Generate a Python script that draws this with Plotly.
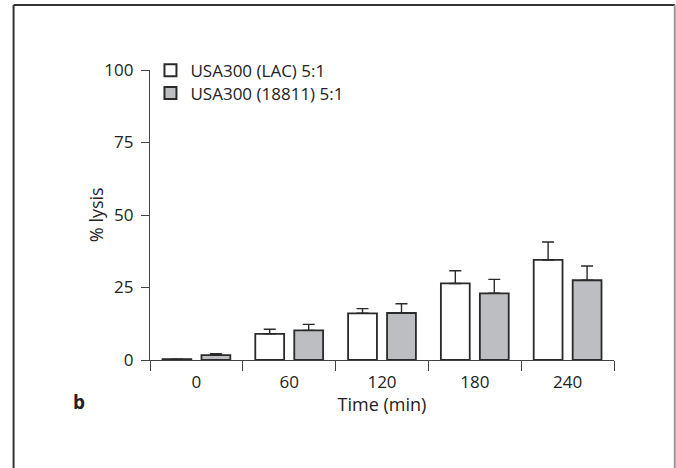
import plotly.graph_objects as go

categories = ["0", "60", "120", "180", "240"]
lac_values = [0.3, 9.0, 16.1, 26.4, 34.5]
lac_err = [0.0, 1.6, 1.6, 4.4, 6.2]
s18811_values = [1.7, 10.2, 16.2, 23.0, 27.5]
s18811_err = [0.5, 2.1, 3.2, 4.8, 4.9]
series_names = ["USA300 (LAC) 5:1", "USA300 (18811) 5:1"]
y_ticks = [0, 25, 50, 75, 100]

FONT = "Open Sans, Noto Sans, sans-serif"
DARK = "#2a2a2a"
x_idx = list(range(len(categories)))

fig = go.Figure()
fig.add_trace(go.Bar(
    x=x_idx, y=lac_values, name=series_names[0], legend="legend",
    marker=dict(color="white", line=dict(color=DARK, width=1.8)),
    error_y=dict(type="data", array=lac_err, arrayminus=[0] * 5, symmetric=False,
                 color=DARK, thickness=1.4, width=6),
))
fig.add_trace(go.Bar(
    x=x_idx, y=s18811_values, name=series_names[1], legend="legend2",
    marker=dict(color="#bdbec1", line=dict(color=DARK, width=1.8)),
    error_y=dict(type="data", array=s18811_err, arrayminus=[0] * 5, symmetric=False,
                 color=DARK, thickness=1.4, width=6),
))

leg_common = dict(xanchor="left", yanchor="middle", bgcolor="rgba(0,0,0,0)",
                  font=dict(size=17, color="#222"), itemsizing="constant")

fig.update_layout(
    width=676, height=468,
    margin=dict(l=150, r=62, t=70, b=108),
    paper_bgcolor="white", plot_bgcolor="white",
    barmode="group", bargap=0.16, bargroupgap=0.26,
    font=dict(family=FONT, size=17, color="#222"),
    showlegend=True,
    legend=dict(x=0.001, y=0.998, **leg_common),
    legend2=dict(x=0.001, y=0.919, **leg_common),
    xaxis=dict(
        range=[-0.5, 4.5], tickvals=x_idx, ticktext=categories, ticks="",
        showline=True, linecolor="#444", linewidth=1.2, showgrid=False, zeroline=False,
        tickfont=dict(size=17), ticklabelstandoff=6,
        minor=dict(tick0=-0.5, dtick=1, ticks="outside", ticklen=10, tickcolor="#444",
                   tickwidth=1.2, showgrid=False),
        title=dict(text="Time (min)", font=dict(size=18), standoff=2),
    ),
    yaxis=dict(
        range=[0, 100], tickvals=y_ticks, ticks="outside", ticklen=8, tickcolor="#444",
        tickwidth=1.2, showline=True, linecolor="#444", linewidth=1.2,
        showgrid=False, zeroline=False, tickfont=dict(size=17), ticklabelstandoff=4,
    ),
)

# y-axis title
fig.add_annotation(text="% lysis", xref="paper", yref="paper", x=-0.116, y=0.5,
                   xanchor="center", yanchor="middle", textangle=-90, showarrow=False,
                   font=dict(size=18, color="#222"))

# panel frame
fig.add_shape(type="line", xref="paper", yref="paper", x0=-0.294, x1=-0.294, y0=1.224, y1=-0.4,
              line=dict(color="#333", width=2))
fig.add_shape(type="line", xref="paper", yref="paper", x0=-0.294, x1=1.131, y0=1.224, y1=1.224,
              line=dict(color="#333", width=2))
fig.add_shape(type="line", xref="paper", yref="paper", x0=1.131, x1=1.131, y0=1.224, y1=-0.4,
              line=dict(color="#999", width=2))

fig.add_annotation(text="<b>b</b>", xref="paper", yref="paper", x=-0.153, y=-0.145,
                   xanchor="center", yanchor="middle",
                   showarrow=False, font=dict(size=19, color="#222"))

fig.write_html("out.html", config={"displayModeBar": False},
               post_script="document.body.style.margin='0';")
